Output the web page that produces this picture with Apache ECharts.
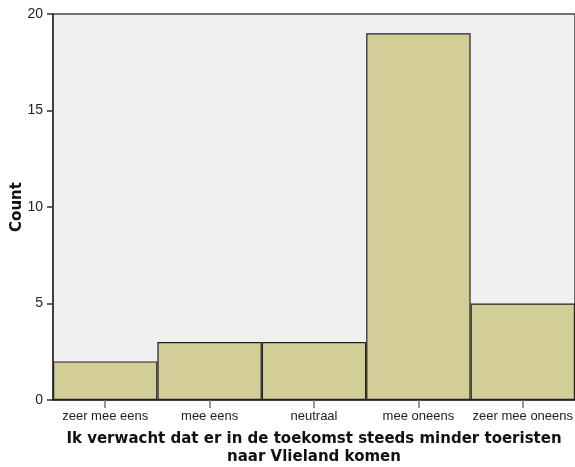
<!DOCTYPE html>
<html><head><meta charset="utf-8">
<script src="https://cdn.jsdelivr.net/npm/echarts@6/dist/echarts.min.js"></script>
<style>html,body{margin:0;padding:0;background:#fff}#c{width:575px;height:467px}</style>
</head><body><div id="c"></div>
<script>
const categories = ['zeer mee eens', 'mee eens', 'neutraal', 'mee oneens', 'zeer mee oneens'];
const counts = [2, 3, 3, 19, 5];
const yTicks = [0, 5, 10, 15, 20];
const xTitle = 'Ik verwacht dat er in de toekomst steeds minder toeristen\nnaar Vlieland komen';
const yTitle = 'Count';

const chart = echarts.init(document.getElementById('c'), null, {renderer: 'canvas'});
chart.setOption({
  animation: false,
  backgroundColor: '#ffffff',
  grid: {left: 53, right: 0, top: 14, bottom: 67, containLabel: false, outerBoundsMode: 'none',
         show: true, backgroundColor: '#f0f0f0', borderColor: '#444', borderWidth: 1.5},
  xAxis: {
    type: 'category', data: categories, boundaryGap: true,
    axisLine: {show: true, lineStyle: {color: '#333', width: 1.5}},
    axisTick: {show: true, alignWithLabel: true, length: 8, lineStyle: {color: '#777', width: 1.5}},
    axisLabel: {color: '#222', fontSize: 13, fontFamily: 'Liberation Sans', margin: 10, interval: 0, hideOverlap: false},
    name: xTitle, nameLocation: 'middle', nameGap: 30,
    nameTextStyle: {color: '#111', fontSize: 15, fontWeight: 'bold', fontFamily: 'DejaVu Sans', lineHeight: 18}
  },
  yAxis: {
    type: 'value', min: yTicks[0], max: yTicks[yTicks.length - 1], interval: 5,
    splitLine: {show: false},
    axisLine: {show: true, lineStyle: {color: '#333', width: 1.5}},
    axisTick: {show: true, length: 6, lineStyle: {color: '#333', width: 1.5}},
    axisLabel: {color: '#222', fontSize: 14, fontFamily: 'Liberation Sans', margin: 10},
    name: yTitle, nameLocation: 'middle', nameGap: 28, nameRotate: 90, nameMoveOverlap: false,
    nameTextStyle: {color: '#111', fontSize: 15, fontWeight: 'bold', fontFamily: 'DejaVu Sans'}
  },
  series: [{
    type: 'bar', data: counts, barCategoryGap: '0%',
    itemStyle: {color: '#d3ce98', borderColor: '#222', borderWidth: 1.2}
  }]
});
</script></body></html>
